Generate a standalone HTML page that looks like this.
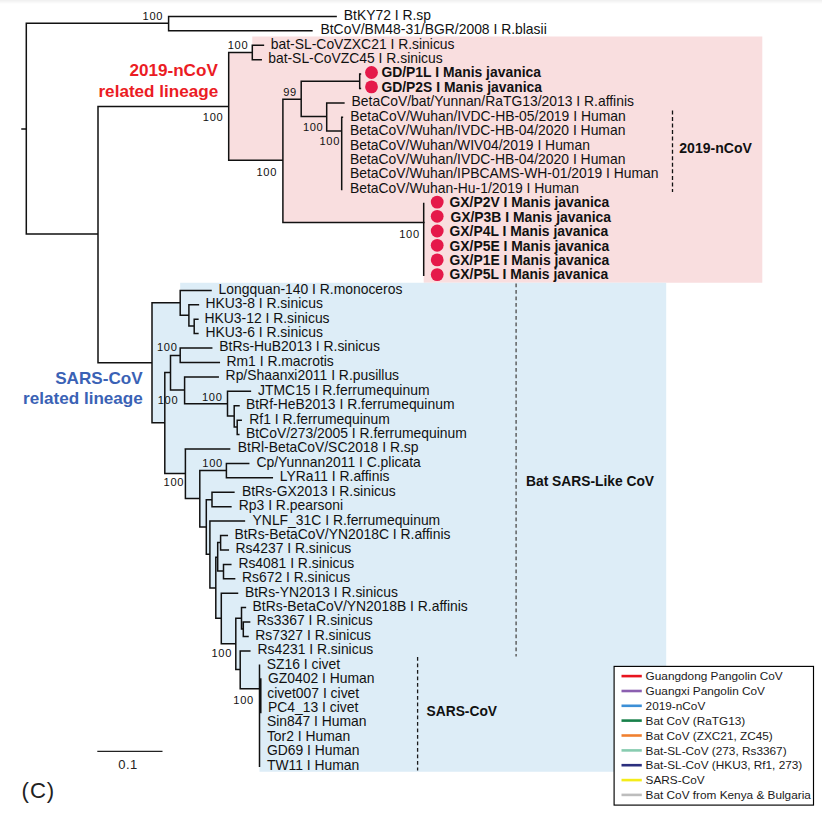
<!DOCTYPE html><html><head><meta charset="utf-8"><title>Phylogenetic tree</title><style>
html,body{margin:0;padding:0;background:#fff;}svg{display:block;}
text{font-family:"Liberation Sans",sans-serif;}
</style></head><body>
<svg width="822" height="813" viewBox="0 0 822 813">
<rect x="0" y="0" width="822" height="813" fill="#fff"/>
<defs><linearGradient id="tg" x1="0" y1="0" x2="0" y2="1"><stop offset="0" stop-color="#efefef"/><stop offset="1" stop-color="#fff"/></linearGradient></defs>
<rect x="0" y="0" width="822" height="4" fill="url(#tg)"/>
<polygon points="252.3,36.4 762.3,36.4 762.3,282.8 423.7,282.8 423.7,222.5 282.9,222.5 282.9,160.2 228.7,160.2 228.7,52.6 252.3,52.6" fill="#F9DEDF"/>
<polygon points="180.2,282.8 180.2,302.8 152.0,302.8 152.0,422.7 164.8,422.7 164.8,473.5 185.4,473.5 185.4,498.4 199.8,498.4 199.8,526.9 206.3,526.9 206.3,554.3 209.9,554.3 209.9,587.9 215.8,587.9 215.8,618.2 221.3,618.2 221.3,643.8 235.8,643.8 235.8,669.5 240.2,669.5 240.2,688.8 259.5,688.8 259.5,771.7 666.2,771.7 666.2,282.8" fill="#DDEDF7"/>
<g stroke="#111" stroke-width="1.5" fill="none" stroke-linecap="square">
<path d="M26.3 23.3V234.0 M168.6 16.4V30.8 M98.0 106.5V362.8 M228.7 52.6V160.2 M252.3 45.2V59.7 M282.9 99.2V222.5 M301.2 81.3V116.6 M359.7 74.1V88.5 M326.7 102.9V131.0 M341.7 117.3V189.4 M423.7 203.4V275.3 M152.0 302.8V422.7 M180.2 290.4V315.2 M188.9 304.8V326.0 M194.2 319.2V333.6 M164.8 372.6V473.5 M170.5 355.5V390.1 M180.2 348.1V362.5 M184.6 376.9V403.7 M227.5 391.3V416.1 M234.2 405.7V427.1 M237.2 420.2V434.6 M185.4 449.0V498.4 M199.8 470.6V526.9 M226.4 463.4V477.8 M206.3 499.8V554.3 M212.0 492.3V506.7 M209.9 521.1V587.9 M215.8 557.2V618.2 M217.7 542.6V571.1 M220.6 535.5V549.9 M223.5 564.4V578.8 M221.3 593.2V643.8 M235.8 618.2V669.5 M241.5 607.6V629.0 M243.3 622.0V636.5 M240.2 650.9V688.8 M259.5 665.3V766.2 M260.8 679.0V712.5 M22.0 129.0H26.3 M26.3 23.3H168.6 M26.3 234.0H98.0 M98.0 106.5H228.7 M228.7 52.6H252.3 M228.7 160.2H282.9 M282.9 99.2H301.2 M301.2 81.3H359.7 M301.2 116.6H326.7 M326.7 131.0H341.7 M282.9 222.5H424.0 M98.0 362.8H152.0 M152.0 302.8H180.2 M180.2 315.2H188.9 M188.9 326.0H194.2 M152.0 422.7H164.8 M164.8 372.6H170.5 M170.5 355.5H180.2 M170.5 390.1H184.6 M184.6 403.7H227.5 M227.5 416.1H234.2 M234.2 427.1H237.2 M164.8 473.5H185.4 M185.4 498.4H199.8 M199.8 470.6H226.4 M199.8 526.9H206.3 M206.3 499.8H212.0 M206.3 554.3H209.9 M209.9 587.9H215.8 M215.8 557.2H217.7 M217.7 542.6H220.6 M217.7 571.1H223.5 M215.8 618.2H221.3 M221.3 643.8H235.8 M235.8 618.2H241.5 M241.5 629.0H243.3 M235.8 669.5H240.2 M240.2 688.8H259.5 M168.6 16.4H336.1 M168.6 30.8H311.9 M252.3 45.2H263.4 M252.3 59.7H261.2 M359.7 74.1H360.4 M359.7 88.5H360.4 M326.7 102.9H343.9 M341.7 117.3H342.4 M180.2 290.4H211.0 M188.9 304.8H198.4 M194.2 319.2H197.9 M194.2 333.6H197.9 M180.2 348.1H211.7 M180.2 362.5H219.3 M184.6 376.9H218.2 M227.5 391.3H250.4 M234.2 405.7H239.0 M237.2 420.2H241.2 M237.2 434.6H238.8 M185.3 449.0H229.6 M226.4 463.4H248.7 M226.4 477.8H272.3 M212.0 492.3H233.9 M212.0 506.7H230.9 M209.9 521.1H244.4 M220.6 535.5H227.3 M220.6 549.9H228.3 M223.5 564.4H230.8 M223.5 578.8H234.6 M221.3 593.2H237.5 M241.5 607.6H245.4 M243.3 622.0H249.6 M243.3 636.5H248.0 M240.2 650.9H249.8"/>
</g>
<path d="M672.5 110.4V192" stroke="#111" stroke-width="1.3" stroke-dasharray="4 2.55"/>
<path d="M516.1 283.6V656.4" stroke="#555" stroke-width="1.4" stroke-dasharray="3.6 2.9"/>
<path d="M417.6 656.9V770.6" stroke="#1a1a1a" stroke-width="1.3" stroke-dasharray="3.9 2.6"/>
<circle cx="371.5" cy="72.5" r="6.4" fill="#E5194A"/>
<circle cx="371.5" cy="86.9" r="6.4" fill="#E5194A"/>
<circle cx="437.2" cy="202.1" r="6.4" fill="#E5194A"/>
<circle cx="437.2" cy="216.3" r="6.4" fill="#E5194A"/>
<circle cx="437.2" cy="231.0" r="6.4" fill="#E5194A"/>
<circle cx="437.2" cy="245.3" r="6.4" fill="#E5194A"/>
<circle cx="437.2" cy="259.9" r="6.4" fill="#E5194A"/>
<circle cx="437.2" cy="274.6" r="6.4" fill="#E5194A"/>
<g font-size="13.90" fill="#111">
<text x="343.80" y="19.80">BtKY72 I R.sp</text>
<text x="320.50" y="34.22">BtCoV/BM48-31/BGR/2008 I R.blasii</text>
<text x="270.80" y="48.64">bat-SL-CoVZXC21 I R.sinicus</text>
<text x="268.20" y="63.06">bat-SL-CoVZC45 I R.sinicus</text>
<text x="381.40" y="77.48" font-weight="bold">GD/P1L I Manis javanica</text>
<text x="381.40" y="91.90" font-weight="bold">GD/P2S I Manis javanica</text>
<text x="351.60" y="106.32">BetaCoV/bat/Yunnan/RaTG13/2013 I R.affinis</text>
<text x="350.30" y="120.74">BetaCoV/Wuhan/IVDC-HB-05/2019 I Human</text>
<text x="350.00" y="135.16">BetaCoV/Wuhan/IVDC-HB-04/2020 I Human</text>
<text x="350.00" y="149.58">BetaCoV/Wuhan/WIV04/2019 I Human</text>
<text x="350.00" y="164.00">BetaCoV/Wuhan/IVDC-HB-04/2020 I Human</text>
<text x="350.00" y="178.42">BetaCoV/Wuhan/IPBCAMS-WH-01/2019 I Human</text>
<text x="350.00" y="192.84">BetaCoV/Wuhan-Hu-1/2019 I Human</text>
<text x="449.50" y="207.26" font-weight="bold">GX/P2V I Manis javanica</text>
<text x="450.40" y="221.68" font-weight="bold">GX/P3B I Manis javanica</text>
<text x="449.50" y="236.10" font-weight="bold">GX/P4L I Manis javanica</text>
<text x="449.50" y="250.52" font-weight="bold">GX/P5E I Manis javanica</text>
<text x="449.50" y="264.94" font-weight="bold">GX/P1E I Manis javanica</text>
<text x="449.50" y="279.36" font-weight="bold">GX/P5L I Manis javanica</text>
<text x="218.60" y="293.78">Longquan-140 I R.monoceros</text>
<text x="205.50" y="308.20">HKU3-8 I R.sinicus</text>
<text x="204.50" y="322.62">HKU3-12 I R.sinicus</text>
<text x="205.50" y="337.04">HKU3-6 I R.sinicus</text>
<text x="219.30" y="351.46">BtRs-HuB2013 I R.sinicus</text>
<text x="226.50" y="365.88">Rm1 I R.macrotis</text>
<text x="225.60" y="380.30">Rp/Shaanxi2011 I R.pusillus</text>
<text x="258.10" y="394.72">JTMC15 I R.ferrumequinum</text>
<text x="246.00" y="409.14">BtRf-HeB2013 I R.ferrumequinum</text>
<text x="249.30" y="423.56">Rf1 I R.ferrumequinum</text>
<text x="246.00" y="437.98">BtCoV/273/2005 I R.ferrumequinum</text>
<text x="237.80" y="452.40">BtRl-BetaCoV/SC2018 I R.sp</text>
<text x="256.50" y="466.82">Cp/Yunnan2011 I C.plicata</text>
<text x="279.80" y="481.24">LYRa11 I R.affinis</text>
<text x="242.00" y="495.66">BtRs-GX2013 I R.sinicus</text>
<text x="238.80" y="510.08">Rp3 I R.pearsoni</text>
<text x="252.60" y="524.50">YNLF_31C I R.ferrumequinum</text>
<text x="234.50" y="538.92">BtRs-BetaCoV/YN2018C I R.affinis</text>
<text x="235.50" y="553.34">Rs4237 I R.sinicus</text>
<text x="238.40" y="567.76">Rs4081 I R.sinicus</text>
<text x="242.00" y="582.18">Rs672 I R.sinicus</text>
<text x="245.00" y="596.60">BtRs-YN2013 I R.sinicus</text>
<text x="252.60" y="611.02">BtRs-BetaCoV/YN2018B I R.affinis</text>
<text x="256.80" y="625.44">Rs3367 I R.sinicus</text>
<text x="255.20" y="639.86">Rs7327 I R.sinicus</text>
<text x="257.50" y="654.28">Rs4231 I R.sinicus</text>
<text x="266.70" y="668.70">SZ16 I civet</text>
<text x="268.00" y="683.12">GZ0402 I Human</text>
<text x="267.30" y="697.54">civet007 I civet</text>
<text x="268.00" y="711.96">PC4_13 I civet</text>
<text x="266.90" y="726.38">Sin847 I Human</text>
<text x="266.90" y="740.80">Tor2 I Human</text>
<text x="266.90" y="755.22">GD69 I Human</text>
<text x="266.90" y="769.64">TW11 I Human</text>
</g>
<g font-size="11.10" fill="#111" text-anchor="end" letter-spacing="0.7">
<text x="163.20" y="20.07">100</text>
<text x="248.30" y="48.97">100</text>
<text x="223.40" y="121.47">100</text>
<text x="296.90" y="96.17">99</text>
<text x="323.50" y="130.97">100</text>
<text x="340.10" y="144.97">100</text>
<text x="277.10" y="175.57">100</text>
<text x="419.80" y="238.47">100</text>
<text x="177.60" y="351.17">100</text>
<text x="178.30" y="403.97">100</text>
<text x="222.60" y="401.17">100</text>
<text x="222.90" y="467.27">100</text>
<text x="184.20" y="486.27">100</text>
<text x="232.10" y="657.27">100</text>
<text x="253.90" y="704.37">100</text>
</g>
<g font-size="17.1" font-weight="bold" text-anchor="end">
<text x="217.8" y="76.3" fill="#EB1C24">2019-nCoV</text>
<text x="218.2" y="96.8" fill="#EB1C24">related lineage</text>
<text x="142.6" y="384.3" fill="#3A62B5">SARS-CoV</text>
<text x="142.8" y="403.6" fill="#3A62B5">related lineage</text>
</g>
<g font-size="13.8" font-weight="bold" fill="#111">
<text x="679.3" y="152.7" font-size="14.05">2019-nCoV</text>
<text x="526.0" y="486.2">Bat SARS-Like CoV</text>
<text x="426.5" y="716.4">SARS-CoV</text>
</g>
<path d="M97.3 751.4H162.5" stroke="#222" stroke-width="1.2"/>
<text x="118.3" y="768.9" font-size="13" letter-spacing="0.4" fill="#222">0.1</text>
<text x="21.6" y="797.6" font-size="22.2" letter-spacing="0.9" fill="#222">(C)</text>
<rect x="614.1" y="666.4" width="199.4" height="138.7" fill="#fff" stroke="#000" stroke-width="1.15"/>
<path d="M621.5 676.1H641.8" stroke="#E8141E" stroke-width="2.6"/>
<text x="645.6" y="680.2" font-size="11.8" fill="#1a1a1a">Guangdong Pangolin CoV</text>
<path d="M621.5 691.0H641.8" stroke="#8B5FB0" stroke-width="2.6"/>
<text x="645.6" y="695.1" font-size="11.8" fill="#1a1a1a">Guangxi Pangolin CoV</text>
<path d="M621.5 705.8H641.8" stroke="#3C8FD6" stroke-width="2.6"/>
<text x="645.6" y="709.9" font-size="11.8" fill="#1a1a1a">2019-nCoV</text>
<path d="M621.5 720.6H641.8" stroke="#18804A" stroke-width="2.6"/>
<text x="645.6" y="724.8" font-size="11.8" fill="#1a1a1a">Bat CoV (RaTG13)</text>
<path d="M621.5 735.5H641.8" stroke="#F08030" stroke-width="2.6"/>
<text x="645.6" y="739.6" font-size="11.8" fill="#1a1a1a">Bat CoV (ZXC21, ZC45)</text>
<path d="M621.5 750.4H641.8" stroke="#88CCB0" stroke-width="2.6"/>
<text x="645.6" y="754.5" font-size="11.8" fill="#1a1a1a">Bat-SL-CoV (273, Rs3367)</text>
<path d="M621.5 765.2H641.8" stroke="#2B2F7E" stroke-width="2.6"/>
<text x="645.6" y="769.3" font-size="11.8" fill="#1a1a1a">Bat-SL-CoV (HKU3, Rf1, 273)</text>
<path d="M621.5 780.1H641.8" stroke="#F4EC1A" stroke-width="2.6"/>
<text x="645.6" y="784.2" font-size="11.8" fill="#1a1a1a">SARS-CoV</text>
<path d="M621.5 794.9H641.8" stroke="#BDBDBD" stroke-width="2.6"/>
<text x="645.6" y="799.0" font-size="11.8" fill="#1a1a1a">Bat CoV from Kenya &amp; Bulgaria</text>
</svg></body></html>
